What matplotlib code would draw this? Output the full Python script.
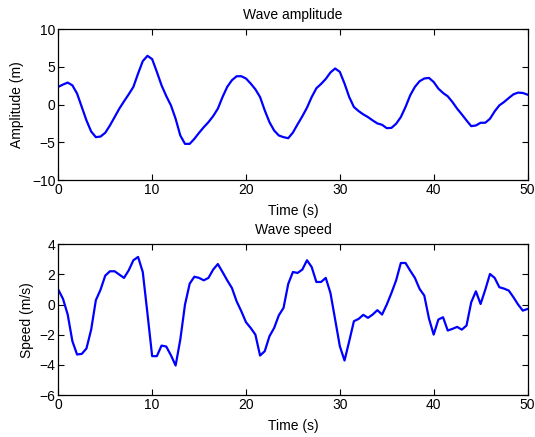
import numpy as np
import matplotlib
matplotlib.use('Agg')
import matplotlib.pyplot as plt

time_s = np.arange(0, 50.5, 0.5)

amplitude_m = [
    2.36, 2.67, 2.93, 2.56, 1.47, -0.31, -2.09, -3.56, -4.31, -4.23,
    -3.73, -2.76, -1.65, -0.53, 0.44, 1.37, 2.36, 4.13, 5.77, 6.48,
    6.04, 4.35, 2.57, 1.15, -0.09, -1.87, -4.09, -5.20, -5.20, -4.53,
    -3.73, -2.99, -2.32, -1.52, -0.53, 1.01, 2.36, 3.24, 3.77, 3.77,
    3.47, 2.80, 2.04, 1.01, -0.76, -2.32, -3.43, -4.09, -4.31, -4.45,
    -3.70, -2.60, -1.55, -0.40, 1.01, 2.17, 2.75, 3.41, 4.27, 4.80,
    4.35, 2.80, 1.01, -0.31, -0.85, -1.29, -1.65, -2.09, -2.49, -2.67,
    -3.12, -3.08, -2.53, -1.65, -0.31, 1.24, 2.36, 3.11, 3.47, 3.55,
    3.01, 2.13, 1.55, 1.11, 0.35, -0.53, -1.29, -2.09, -2.85, -2.76,
    -2.40, -2.40, -1.87, -0.89, -0.09, 0.35, 0.88, 1.37, 1.60, 1.55,
    1.33,
]

speed_ms = [
    0.99, 0.38, -0.66, -2.43, -3.31, -3.27, -2.91, -1.66, 0.29, 0.99,
    1.92, 2.21, 2.21, 1.99, 1.77, 2.27, 2.94, 3.16, 2.16, -0.60,
    -3.42, -3.42, -2.72, -2.78, -3.36, -4.04, -2.32, 0.00, 1.39, 1.85,
    1.77, 1.61, 1.77, 2.32, 2.69, 2.16, 1.61, 1.10, 0.22, -0.44,
    -1.17, -1.55, -1.99, -3.38, -3.09, -2.10, -1.55, -0.71, -0.22, 1.37,
    2.16, 2.10, 2.32, 2.94, 2.49, 1.50, 1.50, 1.77, 0.77, -0.99,
    -2.76, -3.71, -2.43, -1.10, -0.95, -0.68, -0.88, -0.66, -0.37, -0.66,
    0.00, 0.77, 1.61, 2.76, 2.76, 2.25, 1.77, 1.04, 0.60, -0.93,
    -1.99, -0.99, -0.84, -1.72, -1.61, -1.48, -1.66, -1.39, 0.15, 0.88,
    0.04, 0.99, 2.03, 1.77, 1.15, 1.06, 0.93, 0.49, 0.00, -0.40,
    -0.29,
]

amp_ticks = [-10, -5, 0, 5, 10]
speed_ticks = [-6, -4, -2, 0, 2, 4]
time_ticks = [0, 10, 20, 30, 40, 50]

plt.rcParams['font.family'] = ['Liberation Sans', 'DejaVu Sans']
plt.rcParams['font.size'] = 10

fig = plt.figure(figsize=(5.35, 4.37), dpi=100)
ax1 = fig.add_axes([0.109, 0.588, 0.877, 0.345])
ax2 = fig.add_axes([0.109, 0.096, 0.877, 0.345])

# (axes, values, ylabel, title, ylim, yticks, ylabel pad)
panels = [
    (ax1, amplitude_m, 'Amplitude (m)', 'Wave amplitude', (-10, 10), amp_ticks, 5.5),
    (ax2, speed_ms, 'Speed (m/s)', 'Wave speed', (-6, 4), speed_ticks, 4),
]
for ax, vals, ylab, title, ylim, yt, ypad in panels:
    ax.plot(time_s, vals, color='blue', lw=1.6)
    ax.set_xlim(0, 50); ax.set_ylim(*ylim)
    ax.set_xticks(time_ticks); ax.set_yticks(yt)
    ax.tick_params(direction='in', top=True, right=True, length=4, width=0.8, pad=2)
    ax.set_xlabel('Time (s)', labelpad=5.5)
    ax.set_ylabel(ylab, labelpad=ypad)
    ax.set_title(title, fontsize=10, pad=7.2)
    for s in ax.spines.values():
        s.set_linewidth(0.9)

fig.savefig('out.png', dpi=100)
